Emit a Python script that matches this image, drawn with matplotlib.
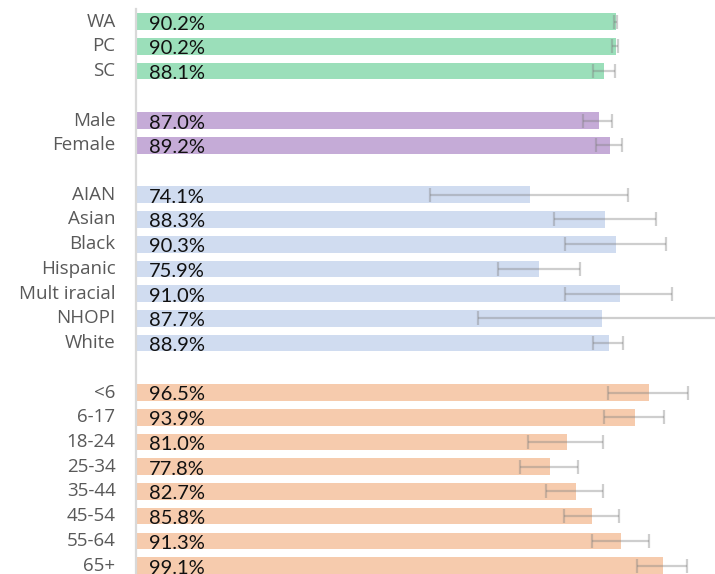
import matplotlib
matplotlib.use("Agg")
import matplotlib.pyplot as plt

# Groups of categories with their estimates (%) and confidence limits
regions = ["WA", "PC", "SC"]
region_vals = [90.2, 90.2, 88.1]
region_lo = [89.9, 89.6, 85.9]
region_hi = [90.5, 90.7, 90.1]

sexes = ["Male", "Female"]
sex_vals = [87.0, 89.2]
sex_lo = [84.1, 86.6]
sex_hi = [89.6, 91.5]

races = ["AIAN", "Asian", "Black", "Hispanic", "Mult iracial", "NHOPI", "White"]
race_vals = [74.1, 88.3, 90.3, 75.9, 91.0, 87.7, 88.9]
race_lo = [55.4, 78.6, 80.7, 68.1, 80.7, 64.4, 86.0]
race_hi = [92.6, 97.8, 99.6, 83.5, 100.9, 113.0, 91.6]

ages = ["<6", "6-17", "18-24", "25-34", "35-44", "45-54", "55-64", "65+"]
age_vals = [96.5, 93.9, 81.0, 77.8, 82.7, 85.8, 91.3, 99.1]
age_lo = [88.8, 88.1, 73.8, 72.3, 77.2, 80.5, 85.8, 94.2]
age_hi = [103.9, 99.3, 87.9, 83.1, 87.8, 90.8, 96.5, 103.7]

groups = [
    (regions, region_vals, region_lo, region_hi, "#9BDFBA"),
    (sexes, sex_vals, sex_lo, sex_hi, "#C5ABD7"),
    (races, race_vals, race_lo, race_hi, "#D0DCF0"),
    (ages, age_vals, age_lo, age_hi, "#F6CBAD"),
]

W, H = 715, 574
fig = plt.figure(figsize=(W / 100, H / 100), dpi=100)
left_px, top_px = 135.8, 9.3
ax = fig.add_axes([left_px / W, 0, 1 - left_px / W, (H - top_px) / H])

row = 0
for labels, vals, lo, hi, color in groups:
    for lab, v, l, h in zip(labels, vals, lo, hi):
        ax.barh(row, v, height=0.675, color=color, zorder=1)
        ax.errorbar(v, row, xerr=[[v - l], [h - v]], fmt="none",
                    ecolor="#7f7f7f", alpha=0.38, elinewidth=1.6,
                    capsize=5, capthick=1.6, zorder=2)
        ax.text(2.4, row + 0.1, f"{v:.1f}%", ha="left", va="center",
                fontsize=14.5, color="#111111", family="Lato", zorder=3)
        ax.text(-3.8, row, lab, ha="right", va="center", fontsize=13.5,
                color="#595959", family="Open Sans", clip_on=False)
        row += 1
    row += 1

ax.set_xlim(0, 108.9)
ax.set_ylim(22.34, -0.5)
ax.set_xticks([])
ax.set_yticks([])
for s in ["top", "right", "bottom"]:
    ax.spines[s].set_visible(False)
ax.spines["left"].set_color("#D9D9D9")
ax.spines["left"].set_linewidth(1.6)

fig.savefig("out.png", dpi=100)
